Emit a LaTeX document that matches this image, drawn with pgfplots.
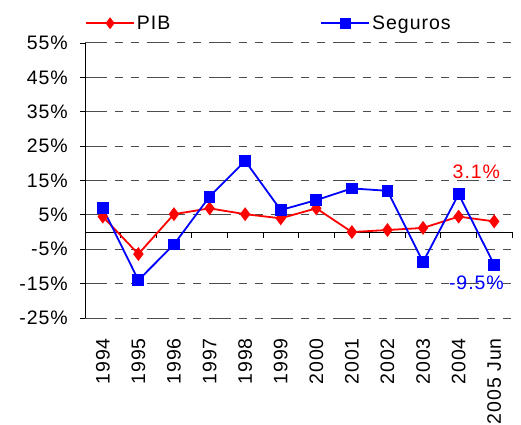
\documentclass[border=0pt]{standalone}
\usepackage{fontspec}
\setmainfont[LetterSpace=5]{Liberation Sans}
\usepackage{pgfplots}
\pgfplotsset{compat=1.18}
\definecolor{pibred}{RGB}{255,0,0}
\definecolor{segblue}{RGB}{0,0,255}
\begin{document}
\begin{tikzpicture}[font=\fontsize{19.5}{22}\selectfont]
\begin{axis}[
  scale only axis, width=427pt, height=275pt,
  xmin=-0.5, xmax=11.5, ymin=-25, ymax=55,
  axis lines*=left,
  x axis line style={draw=none},
  y axis line style={black, line width=0.8pt},
  xtick={0,...,11},
  xticklabels={1994,1995,1996,1997,1998,1999,2000,2001,2002,2003,2004,2005 Jun},
  x tick label style={rotate=90, anchor=east, inner sep=0pt},
  xticklabel shift=15pt,
  x tick style={draw=none},
  ytick={-25,-15,-5,5,15,25,35,45,55},
  yticklabel={\pgfmathprintnumber{\tick}\%},
  /pgf/number format/assume math mode=true,
  y tick label style={inner sep=0pt, xshift=-12pt},
  y tick style={black, line width=0.8pt},
  tick align=outside, major tick length=5pt,
  ymajorgrids,
  grid style={black!70, line width=1pt, dash pattern=on 22pt off 8pt on 8pt off 8pt on 8pt off 8pt},
  legend columns=2,
  legend style={draw=none, fill=none, at={(0,1)}, anchor=south west, xshift=0pt, yshift=10pt,
    /tikz/every even column/.append style={column sep=148pt}, inner sep=0pt},
  legend image code/.code={
    \draw[#1, mark=none] (0pt,0pt) -- (48pt,0pt);
    \draw[#1, only marks, mark size=4.5pt] plot coordinates {(24pt,0pt)};},
  clip=false,
]
\draw[black, line width=0.8pt] (axis cs:-0.5,0) -- (axis cs:11.5,0);
\pgfplotsinvokeforeach{0,...,11}{\draw[black, line width=0.8pt] (axis cs:#1.5,0) -- ([yshift=-6pt]axis cs:#1.5,0);}
\addplot[pibred, line width=1.8pt, mark=diamond*, mark size=5.5pt, mark options={solid}]
  coordinates {(0,4.5) (1,-6.4) (2,5.2) (3,6.9) (4,5.2) (5,4.0) (6,6.9) (7,0.0) (8,0.6) (9,1.2) (10,4.5) (11,3.1)};
\addplot[segblue, line width=1.8pt, mark=square*, mark size=5pt, mark options={solid}]
  coordinates {(0,7.0) (1,-14.0) (2,-3.6) (3,10.3) (4,20.7) (5,6.4) (6,9.3) (7,12.7) (8,12.0) (9,-8.7) (10,11.0) (11,-9.5)};
\legend{PIB, Seguros}
\node[text=pibred] at (axis cs:10.5,17.4) {3.1\%};
\node[text=segblue] at (axis cs:10.5,-14.8) {-9.5\%};
\end{axis}
\path ([shift={(-85pt,-104pt)}]current axis.south west) rectangle ([shift={(9pt,43pt)}]current axis.north east);
\end{tikzpicture}
\end{document}
